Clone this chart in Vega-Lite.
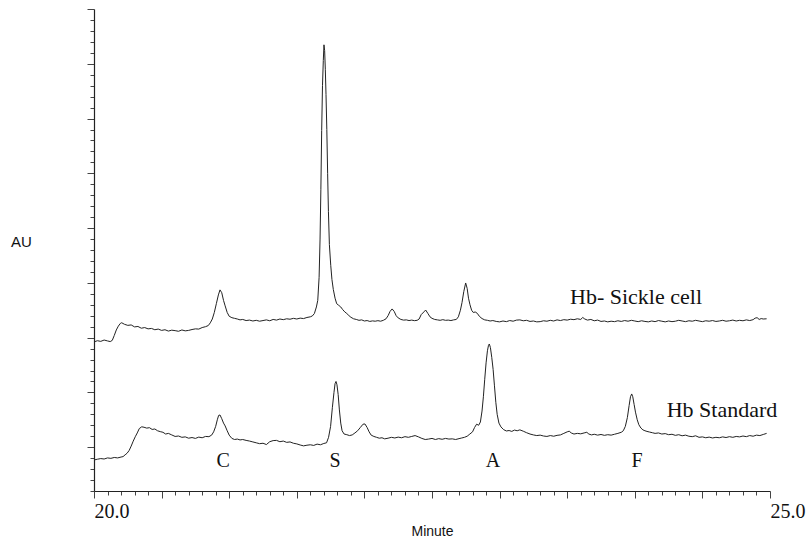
{
"$schema": "https://vega.github.io/schema/vega-lite/v6.json",
"width": 676, "height": 482,
"autosize": "none",
"padding": {"left": 94, "top": 9, "right": 42, "bottom": 54},
"background": "white",
"config": {"view": {"stroke": null}},
"datasets": {
"sickle": [
{"t":20.000,"au":13.61},{"t":20.025,"au":13.72},{"t":20.050,"au":13.66},{"t":20.075,"au":13.78},{"t":20.100,"au":13.70},{"t":20.120,"au":13.64},{"t":20.135,"au":13.75},{"t":20.150,"au":14.20},{"t":20.165,"au":14.70},{"t":20.180,"au":15.05},{"t":20.195,"au":15.30},{"t":20.205,"au":15.36},{"t":20.225,"au":15.22},{"t":20.250,"au":15.12},{"t":20.275,"au":15.16},{"t":20.300,"au":14.98},{"t":20.325,"au":15.02},{"t":20.350,"au":14.86},{"t":20.375,"au":14.92},{"t":20.400,"au":14.80},{"t":20.425,"au":14.84},{"t":20.450,"au":14.72},{"t":20.475,"au":14.78},{"t":20.500,"au":14.66},{"t":20.525,"au":14.72},{"t":20.550,"au":14.60},{"t":20.575,"au":14.68},{"t":20.600,"au":14.64},{"t":20.625,"au":14.58},{"t":20.650,"au":14.70},{"t":20.675,"au":14.62},{"t":20.700,"au":14.66},{"t":20.725,"au":14.74},{"t":20.750,"au":14.80},{"t":20.775,"au":14.78},{"t":20.800,"au":14.92},{"t":20.825,"au":15.00},{"t":20.845,"au":15.10},{"t":20.860,"au":15.35},{"t":20.875,"au":15.70},{"t":20.890,"au":16.30},{"t":20.905,"au":17.10},{"t":20.920,"au":17.90},{"t":20.932,"au":18.36},{"t":20.945,"au":18.10},{"t":20.958,"au":17.40},{"t":20.970,"au":16.90},{"t":20.985,"au":16.30},{"t":21.000,"au":15.95},{"t":21.020,"au":15.82},{"t":21.040,"au":15.76},{"t":21.060,"au":15.70},{"t":21.080,"au":15.62},{"t":21.100,"au":15.66},{"t":21.125,"au":15.56},{"t":21.150,"au":15.60},{"t":21.175,"au":15.52},{"t":21.200,"au":15.58},{"t":21.225,"au":15.50},{"t":21.250,"au":15.56},{"t":21.275,"au":15.62},{"t":21.300,"au":15.54},{"t":21.325,"au":15.66},{"t":21.350,"au":15.60},{"t":21.375,"au":15.70},{"t":21.400,"au":15.64},{"t":21.425,"au":15.72},{"t":21.450,"au":15.68},{"t":21.475,"au":15.76},{"t":21.500,"au":15.70},{"t":21.525,"au":15.78},{"t":21.550,"au":15.74},{"t":21.575,"au":15.84},{"t":21.600,"au":15.90},{"t":21.615,"au":15.98},{"t":21.630,"au":16.20},{"t":21.645,"au":16.80},{"t":21.655,"au":17.40},{"t":21.665,"au":19.50},{"t":21.672,"au":23.00},{"t":21.678,"au":27.50},{"t":21.684,"au":32.90},{"t":21.690,"au":37.00},{"t":21.696,"au":39.30},{"t":21.701,"au":40.73},{"t":21.706,"au":40.20},{"t":21.711,"au":38.50},{"t":21.716,"au":36.20},{"t":21.722,"au":33.00},{"t":21.728,"au":29.00},{"t":21.734,"au":25.50},{"t":21.741,"au":22.50},{"t":21.751,"au":20.60},{"t":21.760,"au":19.30},{"t":21.770,"au":18.40},{"t":21.783,"au":17.60},{"t":21.795,"au":17.10},{"t":21.810,"au":16.95},{"t":21.825,"au":16.80},{"t":21.840,"au":16.55},{"t":21.855,"au":16.35},{"t":21.870,"au":16.20},{"t":21.885,"au":16.02},{"t":21.900,"au":15.86},{"t":21.920,"au":15.72},{"t":21.940,"au":15.66},{"t":21.960,"au":15.58},{"t":21.980,"au":15.62},{"t":22.000,"au":15.52},{"t":22.020,"au":15.56},{"t":22.040,"au":15.48},{"t":22.060,"au":15.53},{"t":22.080,"au":15.50},{"t":22.100,"au":15.55},{"t":22.120,"au":15.50},{"t":22.140,"au":15.58},{"t":22.160,"au":15.72},{"t":22.175,"au":16.00},{"t":22.190,"au":16.40},{"t":22.205,"au":16.62},{"t":22.220,"au":16.40},{"t":22.235,"au":16.00},{"t":22.250,"au":15.80},{"t":22.270,"au":15.66},{"t":22.290,"au":15.60},{"t":22.310,"au":15.62},{"t":22.330,"au":15.56},{"t":22.350,"au":15.60},{"t":22.370,"au":15.55},{"t":22.390,"au":15.58},{"t":22.405,"au":15.70},{"t":22.420,"au":16.10},{"t":22.440,"au":16.35},{"t":22.453,"au":16.52},{"t":22.470,"au":16.20},{"t":22.485,"au":15.90},{"t":22.500,"au":15.76},{"t":22.520,"au":15.66},{"t":22.540,"au":15.62},{"t":22.560,"au":15.58},{"t":22.580,"au":15.64},{"t":22.600,"au":15.58},{"t":22.620,"au":15.60},{"t":22.640,"au":15.56},{"t":22.660,"au":15.62},{"t":22.680,"au":15.66},{"t":22.695,"au":15.90},{"t":22.710,"au":16.50},{"t":22.722,"au":17.20},{"t":22.735,"au":18.20},{"t":22.749,"au":18.99},{"t":22.760,"au":18.50},{"t":22.770,"au":17.60},{"t":22.781,"au":17.00},{"t":22.793,"au":16.50},{"t":22.805,"au":16.30},{"t":22.820,"au":16.34},{"t":22.835,"au":16.22},{"t":22.850,"au":15.95},{"t":22.870,"au":15.74},{"t":22.890,"au":15.62},{"t":22.910,"au":15.58},{"t":22.930,"au":15.52},{"t":22.950,"au":15.56},{"t":22.975,"au":15.48},{"t":23.000,"au":15.44},{"t":23.025,"au":15.52},{"t":23.050,"au":15.46},{"t":23.075,"au":15.56},{"t":23.100,"au":15.50},{"t":23.125,"au":15.60},{"t":23.150,"au":15.62},{"t":23.175,"au":15.54},{"t":23.200,"au":15.58},{"t":23.225,"au":15.48},{"t":23.250,"au":15.52},{"t":23.275,"au":15.44},{"t":23.300,"au":15.46},{"t":23.325,"au":15.54},{"t":23.350,"au":15.50},{"t":23.375,"au":15.58},{"t":23.400,"au":15.52},{"t":23.425,"au":15.62},{"t":23.450,"au":15.56},{"t":23.475,"au":15.64},{"t":23.500,"au":15.60},{"t":23.525,"au":15.68},{"t":23.550,"au":15.64},{"t":23.575,"au":15.72},{"t":23.600,"au":15.66},{"t":23.615,"au":15.84},{"t":23.630,"au":15.70},{"t":23.650,"au":15.60},{"t":23.675,"au":15.66},{"t":23.700,"au":15.54},{"t":23.725,"au":15.60},{"t":23.750,"au":15.48},{"t":23.775,"au":15.52},{"t":23.800,"au":15.44},{"t":23.825,"au":15.50},{"t":23.850,"au":15.46},{"t":23.875,"au":15.54},{"t":23.900,"au":15.48},{"t":23.925,"au":15.56},{"t":23.950,"au":15.50},{"t":23.975,"au":15.58},{"t":24.000,"au":15.52},{"t":24.025,"au":15.46},{"t":24.050,"au":15.54},{"t":24.075,"au":15.48},{"t":24.100,"au":15.44},{"t":24.125,"au":15.52},{"t":24.150,"au":15.46},{"t":24.175,"au":15.56},{"t":24.200,"au":15.50},{"t":24.225,"au":15.44},{"t":24.250,"au":15.52},{"t":24.275,"au":15.46},{"t":24.300,"au":15.50},{"t":24.325,"au":15.58},{"t":24.350,"au":15.52},{"t":24.375,"au":15.46},{"t":24.400,"au":15.54},{"t":24.425,"au":15.50},{"t":24.450,"au":15.58},{"t":24.475,"au":15.52},{"t":24.500,"au":15.46},{"t":24.525,"au":15.54},{"t":24.550,"au":15.50},{"t":24.575,"au":15.56},{"t":24.600,"au":15.48},{"t":24.625,"au":15.52},{"t":24.650,"au":15.58},{"t":24.675,"au":15.50},{"t":24.700,"au":15.54},{"t":24.725,"au":15.60},{"t":24.750,"au":15.52},{"t":24.775,"au":15.58},{"t":24.800,"au":15.54},{"t":24.825,"au":15.62},{"t":24.850,"au":15.56},{"t":24.875,"au":15.64},{"t":24.890,"au":15.78},{"t":24.905,"au":15.82},{"t":24.920,"au":15.66},{"t":24.935,"au":15.74},{"t":24.950,"au":15.70},{"t":24.975,"au":15.72}
],
"standard": [
{"t":20.000,"au":2.83},{"t":20.025,"au":2.90},{"t":20.050,"au":2.96},{"t":20.075,"au":2.92},{"t":20.100,"au":3.02},{"t":20.125,"au":2.98},{"t":20.150,"au":3.06},{"t":20.175,"au":3.02},{"t":20.200,"au":3.10},{"t":20.215,"au":3.14},{"t":20.230,"au":3.30},{"t":20.245,"au":3.45},{"t":20.260,"au":3.70},{"t":20.275,"au":4.10},{"t":20.290,"au":4.55},{"t":20.305,"au":4.95},{"t":20.320,"au":5.30},{"t":20.335,"au":5.70},{"t":20.353,"au":5.86},{"t":20.370,"au":5.82},{"t":20.390,"au":5.74},{"t":20.410,"au":5.78},{"t":20.430,"au":5.62},{"t":20.450,"au":5.66},{"t":20.470,"au":5.50},{"t":20.490,"au":5.42},{"t":20.510,"au":5.36},{"t":20.530,"au":5.20},{"t":20.550,"au":5.26},{"t":20.575,"au":5.12},{"t":20.600,"au":4.98},{"t":20.625,"au":5.02},{"t":20.650,"au":4.90},{"t":20.675,"au":4.94},{"t":20.700,"au":4.82},{"t":20.725,"au":4.88},{"t":20.750,"au":4.80},{"t":20.775,"au":4.92},{"t":20.800,"au":4.86},{"t":20.825,"au":4.98},{"t":20.850,"au":4.96},{"t":20.870,"au":5.10},{"t":20.885,"au":5.40},{"t":20.900,"au":5.90},{"t":20.912,"au":6.50},{"t":20.922,"au":6.90},{"t":20.932,"au":6.94},{"t":20.945,"au":6.60},{"t":20.958,"au":6.20},{"t":20.970,"au":5.94},{"t":20.985,"au":5.50},{"t":21.000,"au":5.10},{"t":21.020,"au":4.80},{"t":21.040,"au":4.70},{"t":21.060,"au":4.74},{"t":21.080,"au":4.66},{"t":21.100,"au":4.70},{"t":21.125,"au":4.62},{"t":21.150,"au":4.56},{"t":21.175,"au":4.48},{"t":21.200,"au":4.40},{"t":21.225,"au":4.32},{"t":21.250,"au":4.36},{"t":21.275,"au":4.24},{"t":21.300,"au":4.50},{"t":21.325,"au":4.60},{"t":21.350,"au":4.62},{"t":21.375,"au":4.50},{"t":21.400,"au":4.56},{"t":21.425,"au":4.44},{"t":21.450,"au":4.48},{"t":21.475,"au":4.36},{"t":21.500,"au":4.30},{"t":21.525,"au":4.20},{"t":21.550,"au":4.12},{"t":21.575,"au":4.18},{"t":21.600,"au":4.22},{"t":21.625,"au":4.16},{"t":21.650,"au":4.28},{"t":21.675,"au":4.22},{"t":21.700,"au":4.34},{"t":21.720,"au":4.40},{"t":21.735,"au":4.90},{"t":21.750,"au":5.90},{"t":21.763,"au":7.60},{"t":21.775,"au":9.00},{"t":21.783,"au":9.80},{"t":21.790,"au":10.00},{"t":21.797,"au":9.70},{"t":21.806,"au":8.80},{"t":21.815,"au":7.40},{"t":21.825,"au":6.20},{"t":21.835,"au":5.50},{"t":21.850,"au":5.20},{"t":21.870,"au":5.14},{"t":21.890,"au":5.06},{"t":21.910,"au":5.12},{"t":21.930,"au":5.30},{"t":21.950,"au":5.50},{"t":21.970,"au":5.80},{"t":21.990,"au":6.10},{"t":22.004,"au":6.12},{"t":22.020,"au":5.80},{"t":22.035,"au":5.40},{"t":22.050,"au":5.10},{"t":22.070,"au":4.98},{"t":22.090,"au":4.90},{"t":22.110,"au":4.82},{"t":22.130,"au":4.86},{"t":22.150,"au":4.76},{"t":22.175,"au":4.82},{"t":22.200,"au":4.90},{"t":22.225,"au":4.84},{"t":22.250,"au":4.92},{"t":22.275,"au":4.86},{"t":22.300,"au":4.96},{"t":22.325,"au":4.90},{"t":22.350,"au":4.98},{"t":22.375,"au":5.06},{"t":22.400,"au":4.94},{"t":22.425,"au":4.80},{"t":22.450,"au":4.70},{"t":22.475,"au":4.74},{"t":22.500,"au":4.80},{"t":22.525,"au":4.70},{"t":22.550,"au":4.78},{"t":22.575,"au":4.72},{"t":22.600,"au":4.80},{"t":22.625,"au":4.74},{"t":22.650,"au":4.76},{"t":22.675,"au":4.70},{"t":22.700,"au":4.78},{"t":22.720,"au":4.84},{"t":22.740,"au":4.90},{"t":22.760,"au":5.00},{"t":22.780,"au":5.20},{"t":22.800,"au":5.40},{"t":22.815,"au":5.80},{"t":22.830,"au":6.10},{"t":22.845,"au":6.00},{"t":22.858,"au":6.30},{"t":22.870,"au":7.30},{"t":22.880,"au":8.60},{"t":22.890,"au":10.20},{"t":22.900,"au":11.70},{"t":22.910,"au":12.80},{"t":22.918,"au":13.30},{"t":22.924,"au":13.42},{"t":22.932,"au":13.10},{"t":22.942,"au":12.20},{"t":22.952,"au":11.10},{"t":22.962,"au":9.60},{"t":22.972,"au":8.10},{"t":22.982,"au":7.00},{"t":22.995,"au":6.20},{"t":23.010,"au":5.85},{"t":23.030,"au":5.60},{"t":23.050,"au":5.48},{"t":23.070,"au":5.52},{"t":23.090,"au":5.44},{"t":23.110,"au":5.56},{"t":23.130,"au":5.50},{"t":23.150,"au":5.58},{"t":23.175,"au":5.46},{"t":23.200,"au":5.32},{"t":23.225,"au":5.20},{"t":23.250,"au":5.12},{"t":23.275,"au":5.06},{"t":23.300,"au":5.10},{"t":23.325,"au":5.02},{"t":23.350,"au":4.98},{"t":23.375,"au":5.06},{"t":23.400,"au":5.00},{"t":23.425,"au":5.08},{"t":23.450,"au":5.12},{"t":23.475,"au":5.26},{"t":23.500,"au":5.40},{"t":23.515,"au":5.46},{"t":23.530,"au":5.30},{"t":23.550,"au":5.20},{"t":23.575,"au":5.26},{"t":23.600,"au":5.22},{"t":23.625,"au":5.30},{"t":23.645,"au":5.36},{"t":23.660,"au":5.20},{"t":23.680,"au":5.12},{"t":23.700,"au":5.18},{"t":23.725,"au":5.10},{"t":23.750,"au":5.16},{"t":23.775,"au":5.08},{"t":23.800,"au":5.14},{"t":23.825,"au":5.10},{"t":23.850,"au":5.18},{"t":23.875,"au":5.26},{"t":23.900,"au":5.36},{"t":23.915,"au":5.50},{"t":23.930,"au":5.90},{"t":23.945,"au":6.70},{"t":23.958,"au":7.80},{"t":23.968,"au":8.60},{"t":23.977,"au":8.86},{"t":23.985,"au":8.60},{"t":23.995,"au":7.90},{"t":24.005,"au":7.20},{"t":24.018,"au":6.50},{"t":24.030,"au":6.05},{"t":24.045,"au":5.75},{"t":24.060,"au":5.58},{"t":24.075,"au":5.50},{"t":24.090,"au":5.44},{"t":24.110,"au":5.38},{"t":24.130,"au":5.32},{"t":24.150,"au":5.26},{"t":24.175,"au":5.30},{"t":24.200,"au":5.20},{"t":24.225,"au":5.24},{"t":24.250,"au":5.14},{"t":24.275,"au":5.18},{"t":24.300,"au":5.08},{"t":24.325,"au":5.14},{"t":24.350,"au":5.04},{"t":24.375,"au":5.10},{"t":24.400,"au":5.00},{"t":24.425,"au":4.96},{"t":24.450,"au":5.04},{"t":24.475,"au":4.90},{"t":24.500,"au":4.94},{"t":24.525,"au":4.86},{"t":24.550,"au":4.92},{"t":24.575,"au":4.84},{"t":24.600,"au":4.90},{"t":24.625,"au":4.86},{"t":24.650,"au":4.94},{"t":24.675,"au":4.88},{"t":24.700,"au":4.96},{"t":24.725,"au":4.90},{"t":24.750,"au":4.98},{"t":24.775,"au":4.94},{"t":24.800,"au":5.02},{"t":24.825,"au":4.96},{"t":24.850,"au":5.06},{"t":24.875,"au":5.00},{"t":24.900,"au":5.10},{"t":24.925,"au":5.06},{"t":24.950,"au":5.16},{"t":24.975,"au":5.26}
],
"annotations": [
{"label":"Hb- Sickle cell","t":23.521,"au":17.72},
{"label":"Hb Standard","t":24.236,"au":7.40}
],
"peaks": [
{"label":"C","t":20.955,"au":2.74},
{"label":"S","t":21.783,"au":2.74},
{"label":"A","t":22.951,"au":2.74},
{"label":"F","t":24.016,"au":2.74}
]
},
"layer": [
{
"data": {"name": "sickle"},
"mark": {"type": "line", "color": "#222", "strokeWidth": 1},
"encoding": {
"x": {"field": "t", "type": "quantitative",
"scale": {"domain": [20, 25], "nice": false, "zero": false},
"axis": {
"title": "Minute", "titleFont": "Liberation Sans", "titleFontSize": 14, "titleFontWeight": "normal", "titleColor": "#111",
"titleY": 40, "titleBaseline": "middle",
"tickCount": 100,
"values": [20,20.1,20.2,20.3,20.4,20.5,20.6,20.7,20.8,20.9,21,21.1,21.2,21.3,21.4,21.5,21.6,21.7,21.8,21.9,22,22.1,22.2,22.3,22.4,22.5,22.6,22.7,22.8,22.9,23,23.1,23.2,23.3,23.4,23.5,23.6,23.7,23.8,23.9,24,24.1,24.2,24.3,24.4,24.5,24.6,24.7,24.8,24.9,25],
"labelExpr": "(datum.value == 20 || datum.value == 25) ? format(datum.value, '.1f') : ''",
"labelAlign": "left", "labelBaseline": "top", "labelFont": "Liberation Serif", "labelFontSize": 20, "labelColor": "#111",
"labelPadding": 3, "labelOverlap": false, "labelFlush": false,
"grid": false, "domainColor": "#222", "domainWidth": 1,
"tickColor": "#444", "tickWidth": 1,
"tickSize": {"condition": {"test": "abs(datum.value * 2 - round(datum.value * 2)) < 0.001", "value": 7}, "value": 4}
}
},
"y": {"field": "au", "type": "quantitative",
"scale": {"domain": [0, 44], "nice": false, "zero": false},
"axis": {
"title": "AU", "titleFont": "Liberation Sans", "titleFontSize": 15, "titleFontWeight": "normal", "titleColor": "#111",
"titleAngle": 0, "titleX": -73, "titleY": 232, "titleAlign": "center", "titleBaseline": "middle",
"tickCount": 100,
"values": [0,1,2,3,4,5,6,7,8,9,10,11,12,13,14,15,16,17,18,19,20,21,22,23,24,25,26,27,28,29,30,31,32,33,34,35,36,37,38,39,40,41,42,43,44],
"labels": false, "grid": false, "domainColor": "#222", "domainWidth": 1.2,
"tickColor": "#444", "tickWidth": 1,
"tickSize": {"condition": {"test": "(datum.value + 1) % 5 == 0", "value": 7}, "value": 4}
}
}
}
},
{
"data": {"name": "standard"},
"mark": {"type": "line", "color": "#222", "strokeWidth": 1},
"encoding": {
"x": {"field": "t", "type": "quantitative"},
"y": {"field": "au", "type": "quantitative"}
}
},
{
"data": {"name": "annotations"},
"mark": {"type": "text", "align": "left", "baseline": "middle", "font": "Liberation Serif", "fontSize": 22, "color": "#111"},
"encoding": {
"x": {"field": "t", "type": "quantitative"},
"y": {"field": "au", "type": "quantitative"},
"text": {"field": "label"}
}
},
{
"data": {"name": "peaks"},
"mark": {"type": "text", "align": "center", "baseline": "middle", "font": "Liberation Serif", "fontSize": 20, "color": "#111"},
"encoding": {
"x": {"field": "t", "type": "quantitative"},
"y": {"field": "au", "type": "quantitative"},
"text": {"field": "label"}
}
}
]
}
